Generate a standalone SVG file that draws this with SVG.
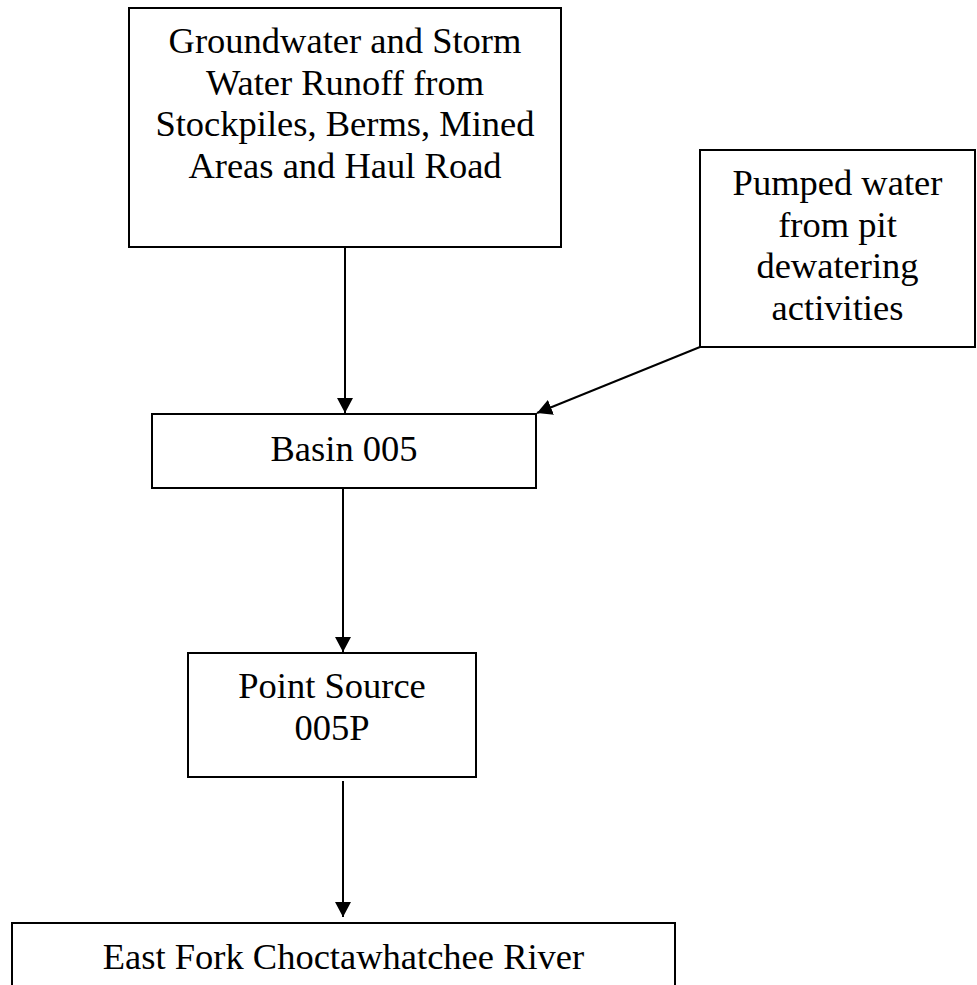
<svg xmlns="http://www.w3.org/2000/svg" width="977" height="985" viewBox="0 0 977 985">
<style>
.box{fill:#fff;stroke:#000;stroke-width:2}
.t{font-family:"Liberation Serif","Times New Roman",serif;font-size:36.5px;fill:#000;text-anchor:middle}
.c{stroke:#000;stroke-width:2;fill:none;marker-end:url(#ah)}
</style>
<defs>
<marker id="ah" markerWidth="16" markerHeight="16" refX="15" refY="8" orient="auto" markerUnits="userSpaceOnUse"><path d="M0,0 L15,8 L0,16 Z" fill="#000"/></marker>
</defs>
<rect width="977" height="985" fill="#fff"/>
<g id="connectors">
<line class="c" x1="345" y1="247" x2="345" y2="413"/>
<line class="c" x1="700" y1="347" x2="537" y2="413"/>
<line class="c" x1="343" y1="488" x2="343" y2="652"/>
<line class="c" x1="343" y1="781" x2="343" y2="917"/>
</g>
<g id="n-runoff">
<rect class="box" x="129" y="8" width="432" height="239"/>
<text class="t" x="345" y="53">Groundwater and Storm</text>
<text class="t" x="345" y="94.5">Water Runoff from</text>
<text class="t" x="345" y="136">Stockpiles, Berms, Mined</text>
<text class="t" x="345" y="177.5">Areas and Haul Road</text>
</g>
<g id="n-pumped">
<rect class="box" x="700" y="150" width="275" height="197"/>
<text class="t" x="837.5" y="195">Pumped water</text>
<text class="t" x="837.5" y="236.5">from pit</text>
<text class="t" x="837.5" y="278">dewatering</text>
<text class="t" x="837.5" y="319.5">activities</text>
</g>
<g id="n-basin">
<rect class="box" x="152" y="414" width="384" height="74"/>
<text class="t" x="344" y="461">Basin 005</text>
</g>
<g id="n-point">
<rect class="box" x="188" y="653" width="288" height="124"/>
<text class="t" x="332" y="698">Point Source</text>
<text class="t" x="332" y="739.5">005P</text>
</g>
<g id="n-river">
<rect class="box" x="12" y="923" width="663" height="100"/>
<text class="t" x="343.5" y="969">East Fork Choctawhatchee River</text>
</g>
</svg>
